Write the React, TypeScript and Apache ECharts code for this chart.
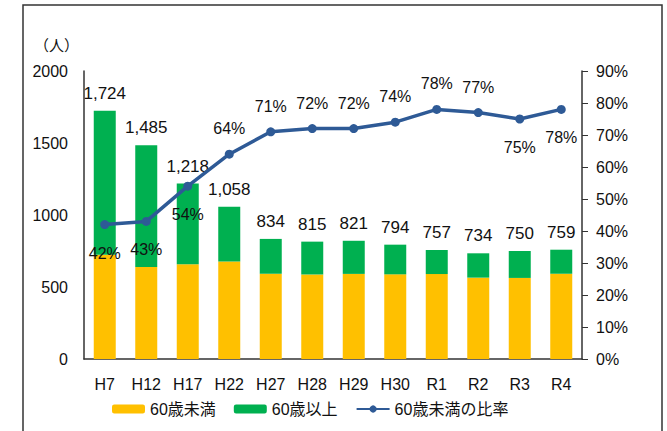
import React, { useEffect, useRef } from "react";
import * as echarts from "echarts";

const categories = ["H7", "H12", "H17", "H22", "H27", "H28", "H29", "H30", "R1", "R2", "R3", "R4"];
const totals = [1724, 1485, 1218, 1058, 834, 815, 821, 794, 757, 734, 750, 759];
const under60 = [724, 639, 658, 677, 592, 587, 591, 588, 590, 565, 563, 592];
const ratio = [42, 43, 54, 64, 71, 72, 72, 74, 78, 77, 75, 78];
const leftTicks = { min: 0, max: 2000, interval: 500 };
const rightTicks = { min: 0, max: 90, interval: 10 };
const seriesNames = ["60歳未満", "60歳以上", "60歳未満の比率"];
const unitLabel = "（人）";

const FONT = "Liberation Sans, Arial, Noto Sans CJK JP, sans-serif";
const CJK = "Liberation Sans, Noto Sans CJK JP, sans-serif";

export default function App() {
  const ref = useRef<HTMLDivElement>(null);
  useEffect(() => {
    if (!ref.current) return;
    const chart = echarts.init(ref.current, undefined, { renderer: "svg" });
    const over60 = totals.map((t, i) => t - under60[i]);
    const below = new Set([0, 1, 2, 10, 11]);
    const ratioData = ratio.map((v, i) => ({
      value: v,
      label: below.has(i)
        ? { position: "bottom", distance: 16 }
        : { position: "top", distance: 13 },
    }));
    chart.setOption({
      animation: false,
      backgroundColor: "#fff",
      textStyle: { fontFamily: FONT, color: "#111" },
      grid: { left: 84, right: 85, top: 71, bottom: 72 },
      graphic: [
        {
          type: "rect",
          shape: { x: 23, y: 5, width: 639, height: 440 },
          style: { fill: "none", stroke: "#333", lineWidth: 1.5 },
          silent: true,
        },
        {
          type: "text",
          left: 34,
          top: 38,
          style: { text: unitLabel, font: `15px ${CJK}`, fill: "#111" },
        },
      ],
      legend: {
        bottom: 9,
        left: 107,
        itemGap: 18,
        itemWidth: 33,
        itemHeight: 9,
        textStyle: { fontSize: 16, fontFamily: CJK, color: "#111" },
        data: seriesNames,
      },
      xAxis: {
        type: "category",
        data: categories,
        axisLine: { lineStyle: { color: "#333", width: 1.5 } },
        axisTick: { show: false },
        axisLabel: { fontSize: 16, color: "#111", margin: 17 },
      },
      yAxis: [
        {
          type: "value",
          ...leftTicks,
          axisLine: { show: true, lineStyle: { color: "#333", width: 1.5 } },
          axisTick: { show: false },
          splitLine: { show: false },
          axisLabel: { fontSize: 16, color: "#111", margin: 16, formatter: (v: number) => String(v) },
        },
        {
          type: "value",
          position: "right",
          ...rightTicks,
          axisLine: { show: true, lineStyle: { color: "#333", width: 1.5 } },
          axisTick: { show: true, length: 6, lineStyle: { color: "#333" } },
          splitLine: { show: false },
          axisLabel: { fontSize: 16, color: "#111", margin: 14, formatter: "{value}%" },
        },
      ],
      series: [
        {
          name: seriesNames[0],
          type: "bar",
          stack: "total",
          barWidth: 22,
          data: under60,
          itemStyle: { color: "#FFC000" },
        },
        {
          name: seriesNames[1],
          type: "bar",
          stack: "total",
          barWidth: 22,
          data: over60,
          itemStyle: { color: "#00B050" },
          label: {
            show: true,
            position: "top",
            distance: 9,
            fontSize: 17,
            color: "#111",
            formatter: (p: any) => totals[p.dataIndex].toLocaleString("en-US"),
          },
        },
        {
          name: seriesNames[2],
          type: "line",
          yAxisIndex: 1,
          data: ratioData,
          z: 5,
          symbol: "circle",
          symbolSize: 9,
          lineStyle: { color: "#2E5A96", width: 3.5 },
          itemStyle: { color: "#2E5A96" },
          label: {
            show: true,
            fontSize: 16,
            color: "#111",
            formatter: (p: any) => `${p.value}%`,
          },
        },
      ],
    });
    return () => chart.dispose();
  }, []);
  return (
    <div
      ref={ref}
      style={{ position: "fixed", left: 0, top: 0, width: 667, height: 431 }}
    />
  );
}
